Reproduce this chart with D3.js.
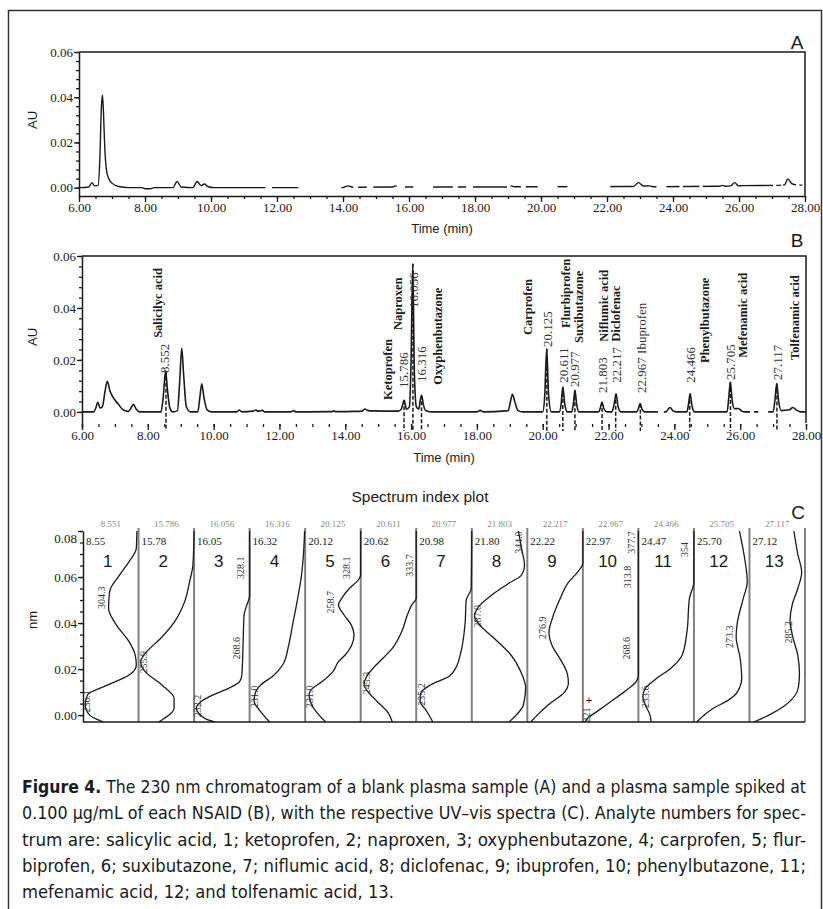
<!DOCTYPE html>
<html>
<head>
<meta charset="utf-8">
<script src="https://cdn.jsdelivr.net/npm/d3@7"></script>
<style>
  body { margin: 0; background: #fff; }
  svg { display: block; }
</style>
</head>
<body>
<svg class="fig" width="823" height="909"></svg>
<script>
// ---------- data ----------
const timeTicks = d3.range(6, 28.01, 2)
const timeMinor = d3.range(6, 28.01, 0.5)
const auTicks = [0, 0.02, 0.04, 0.06]
const auMinor = d3.range(0, 0.0601, 0.004)

// blank plasma trace (A): [time, AU]
const traceA = [
  [6.0,0],[6.3,0.0003],[6.39,0.0022],[6.47,0.0008],[6.58,0.001],[6.63,0.012],[6.68,0.036],[6.71,0.041],
  [6.74,0.034],[6.78,0.018],[6.83,0.008],[6.9,0.004],[7.0,0.002],[7.2,0.0005],[7.5,0],[7.9,0],[8.0,-0.0005],
  [8.15,-0.0005],[8.3,0],[8.85,0],[8.97,0.0027],[9.1,0.0003],[9.45,0],[9.58,0.0027],[9.7,0.0009],[9.8,0.0016],
  [9.9,0.0005],[10.1,0],[14.0,0],[14.15,0.0008],[14.3,0.0002],[15.5,0.0003],[15.6,0.0008],[15.7,0.0003],
  [19.05,0.0003],[19.1,0.0008],[19.2,0.0004],[22.8,0.0005],[22.95,0.0022],[23.1,0.0007],[23.3,0.0008],
  [23.4,0.0004],[25.4,0.0006],[25.5,0.001],[25.6,0.0006],[25.75,0.0008],[25.87,0.0022],[25.98,0.0008],
  [26.1,0.0009],[27.2,0.001],[27.38,0.0012],[27.48,0.0038],[27.6,0.0018],[27.75,0.0012],[27.92,0.0011]
]
// places where the printed trace is broken
const gapsA = [
  [11.65,11.85],[12.65,13.95],[14.31,14.46],[14.72,14.92],[15.63,15.88],[16.13,16.73],[17.33,17.48],
  [17.73,17.94],[18.97,19.08],[19.39,19.54],[19.9,20.5],[20.8,22.1],[23.5,23.8],[24.2,24.3],[24.8,24.9],
  [27.03,27.13],[27.28,27.33],[27.73,27.83]
]

// spiked plasma trace (B): [time, AU]
const traceB = [
  [6.0,0],[6.35,0],[6.42,0.0015],[6.48,0.0037],[6.55,0.0015],[6.62,0.002],[6.7,0.008],[6.77,0.0118],
  [6.85,0.008],[6.95,0.0055],[7.1,0.003],[7.25,0.0008],[7.4,0.0002],[7.49,0.0015],[7.56,0.0029],[7.65,0.001],
  [7.75,0],[8.4,0],[8.47,0.006],[8.54,0.0158],[8.6,0.008],[8.67,0.0015],[8.75,0],[8.9,0.0005],[8.97,0.012],
  [9.03,0.0245],[9.09,0.014],[9.17,0.002],[9.3,0],[9.52,0],[9.58,0.0055],[9.64,0.0108],[9.7,0.006],
  [9.8,0.0008],[9.95,0],[10.7,0],[10.78,0.0007],[10.86,0],[11.2,0.0003],[11.28,0.0007],[11.35,0.0002],
  [11.48,0.0006],[11.55,0],[12.35,0],[12.42,0.0005],[12.5,0],[13.6,0.0001],[13.65,0.0004],[13.7,0.0001],
  [14.3,0.0002],[14.5,0.0003],[14.6,0.0011],[14.7,0.0005],[14.85,0.0004],[15.6,0.0003],[15.7,0.001],
  [15.79,0.0045],[15.86,0.001],[15.95,0.002],[16.0,0.02],[16.05,0.057],[16.1,0.015],[16.16,0.002],
  [16.23,0.001],[16.28,0.0045],[16.32,0.0064],[16.37,0.003],[16.45,0.0004],[16.6,0],[18.0,0],[18.1,0.0006],
  [18.2,0],[18.95,0.0005],[19.02,0.004],[19.08,0.0068],[19.15,0.004],[19.25,0.0005],[19.4,0],[20.0,0],
  [20.06,0.006],[20.12,0.0243],[20.18,0.006],[20.26,0],[20.5,0],[20.56,0.003],[20.61,0.0096],[20.67,0.003],
  [20.75,0],[20.88,0],[20.93,0.003],[20.98,0.0083],[21.03,0.003],[21.1,0],[21.7,0],[21.75,0.0015],
  [21.8,0.0038],[21.86,0.0012],[21.95,0],[22.1,0],[22.17,0.003],[22.23,0.007],[22.29,0.002],[22.38,0],
  [22.85,0],[22.91,0.0013],[22.96,0.0032],[23.02,0.001],[23.1,0],[23.75,0],[23.82,0.0012],[23.87,0.0017],
  [23.95,0.0005],[24.05,0],[24.38,0],[24.43,0.003],[24.48,0.007],[24.54,0.002],[24.62,0],[25.6,0],
  [25.65,0.005],[25.7,0.0115],[25.76,0.004],[25.83,0.0012],[25.95,0.0013],[26.05,0.0003],[26.15,0],
  [27.0,0],[27.06,0.005],[27.11,0.0109],[27.17,0.004],[27.25,0.0005],[27.5,0.0008],[27.6,0.0017],
  [27.7,0.0008],[27.85,0],[28.0,0]
]
const gapsB = [[23.5,23.68],[26.3,26.42],[26.55,26.85]]

const peakTimes = [8.552, 15.786, 16.056, 16.316, 20.125, 20.611, 20.977, 21.803, 22.217, 22.967, 24.466, 25.705, 27.117]
const peakHeights = [0.0158, 0.0045, 0.057, 0.0064, 0.0243, 0.0096, 0.0083, 0.0038, 0.007, 0.0032, 0.007, 0.0115, 0.0109]

// peak labels: [text, time, AU at start of text, bold]
const peakLabels = [
  ['Salicilyc acid', 8.31, 0.0285, true], ['8.552', 8.52, 0.015, false],
  ['Ketoprofen', 15.3, 0.0046, true], ['15.786', 15.76, 0.0092, false],
  ['Naproxen', 15.6, 0.0315, true], ['16.056', 16.06, 0.040, false],
  ['16.316', 16.33, 0.0115, false], ['Oxyphenbutazone', 16.82, 0.0104, true],
  ['Carprofen', 19.56, 0.0296, true], ['20.125', 20.13, 0.025, false],
  ['Flurbiprofen', 20.71, 0.0323, true], ['20.611', 20.62, 0.0112, false],
  ['Suxibutazone', 21.1, 0.0265, true], ['20.977', 20.98, 0.0096, false],
  ['Niflumic acid', 21.87, 0.027, true], ['21.803', 21.81, 0.0073, false],
  ['Diclofenac', 22.23, 0.027, true], ['22.217', 22.23, 0.0112, false],
  ['22.967 Ibuprofen', 22.99, 0.0073, false],
  ['24.466', 24.48, 0.0112, false], ['Phenylbutazone', 24.94, 0.0188, true],
  ['25.705', 25.7, 0.0123, false], ['Mefenamic acid', 26.09, 0.0208, true],
  ['27.117', 27.12, 0.0123, false], ['Tolfenamic acid', 27.67, 0.020, true]
]

// spectrum index plot (C)
const specIds = d3.range(1, 14)
const specTimes = ['8.551','15.786','16.056','16.316','20.125','20.611','20.977','21.803','22.217','22.967','24.466','25.705','27.117']
const specShort = ['8.55','15.78','16.05','16.32','20.12','20.62','20.98','21.80','22.22','22.97','24.47','25.70','27.12']
const specTicks = [0, 0.02, 0.04, 0.06, 0.08]
const specMinor = d3.range(0, 0.0801, 0.005)
// each spectrum: [axis value, fraction of panel width]
const spectra = [
  [[0.08,0.97],[0.0725,0.96],[0.0667,0.83],[0.0609,0.66],[0.0537,0.48],[0.0464,0.46],[0.0392,0.6],[0.0319,0.83],[0.0261,0.94],[0.0218,0.96],[0.0174,0.83],[0.0131,0.45],[0.0087,0.08],[0.0044,0.04],[0,0.12],[-0.003,0.37]],
  [[0.08,1.0],[0.0653,0.98],[0.058,0.92],[0.0493,0.83],[0.0406,0.65],[0.0334,0.4],[0.0276,0.15],[0.0232,0.04],[0.0189,0.12],[0.0131,0.42],[0.0073,0.64],[0.0029,0.64],[-0.0015,0.46],[-0.003,0.36]],
  [[0.08,1.0],[0.0522,1.0],[0.0464,0.93],[0.0435,0.9],[0.029,0.88],[0.0174,0.86],[0.0145,0.82],[0.0116,0.62],[0.0087,0.33],[0.0058,0.12],[0.0029,0.04],[0.0015,0.06],[-0.0015,0.2],[-0.003,0.37]],
  [[0.08,0.99],[0.07,0.97],[0.06,0.93],[0.05,0.86],[0.04,0.78],[0.03,0.7],[0.022,0.6],[0.017,0.42],[0.0131,0.2],[0.0095,0.1],[0.006,0.08],[0.003,0.15],[0,0.25],[-0.003,0.36]],
  [[0.08,1.0],[0.0609,1.0],[0.058,0.93],[0.0551,0.8],[0.0508,0.66],[0.048,0.6],[0.0435,0.7],[0.0392,0.83],[0.0348,0.88],[0.0305,0.84],[0.0261,0.72],[0.0232,0.6],[0.0189,0.5],[0.0145,0.3],[0.0116,0.13],[0.0087,0.07],[0.0044,0.12],[0,0.25],[-0.003,0.37]],
  [[0.08,1.0],[0.0508,1.0],[0.0479,0.92],[0.0435,0.84],[0.0363,0.74],[0.029,0.57],[0.0247,0.4],[0.0203,0.22],[0.016,0.09],[0.0131,0.06],[0.0102,0.13],[0.0058,0.3],[0.0015,0.48],[-0.003,0.57]],
  [[0.08,1.0],[0.055,0.99],[0.05,0.9],[0.04,0.88],[0.027,0.8],[0.02,0.7],[0.017,0.6],[0.013,0.25],[0.0095,0.08],[0.006,0.07],[0.002,0.18],[-0.003,0.3]],
  [[0.08,0.84],[0.072,0.9],[0.065,0.95],[0.061,0.9],[0.057,0.65],[0.052,0.35],[0.047,0.12],[0.043,0.05],[0.039,0.15],[0.033,0.42],[0.026,0.71],[0.019,0.88],[0.012,0.97],[0.0044,0.93],[0,0.8],[-0.003,0.67]],
  [[0.08,1.0],[0.066,1.0],[0.062,0.9],[0.058,0.75],[0.05,0.58],[0.042,0.45],[0.036,0.39],[0.03,0.45],[0.024,0.6],[0.018,0.72],[0.014,0.74],[0.01,0.67],[0.0045,0.38],[0,0.18],[-0.003,0.06]],
  [[0.08,1.0],[0.0174,1.0],[0.0145,0.96],[0.0102,0.75],[0.0058,0.5],[0.0015,0.25],[-0.0015,0.08],[-0.003,0.04]],
  [[0.08,1.0],[0.058,1.0],[0.0508,0.92],[0.0363,0.875],[0.0261,0.79],[0.0203,0.58],[0.016,0.33],[0.0116,0.125],[0.008,0.08],[0.0044,0.125],[0,0.21],[-0.003,0.23]],
  [[0.08,0.82],[0.07,0.9],[0.058,0.96],[0.05,0.88],[0.04,0.78],[0.034,0.76],[0.025,0.83],[0.016,0.86],[0.01,0.78],[0.0065,0.62],[0.003,0.35],[-0.003,0.05]],
  [[0.08,0.8],[0.07,0.87],[0.062,0.94],[0.055,0.87],[0.048,0.77],[0.041,0.73],[0.034,0.78],[0.026,0.87],[0.018,0.9],[0.012,0.88],[0.0065,0.75],[0.0035,0.6],[0,0.35],[-0.003,0.08]]
]
// wavelength labels in the spectra: [panel, fraction, axis value, text]
const specPeaks = [
  [1,0.34,0.051,'304.3'],[1,0.06,0.006,'236.1'],[2,0.09,0.023,'255.9'],
  [3,0.83,0.064,'328.1'],[3,0.76,0.029,'268.6'],[3,0.07,0.004,'232.2'],[4,0.08,0.008,'231.0'],
  [5,0.75,0.064,'328.1'],[5,0.45,0.049,'258.7'],[5,0.08,0.008,'231.0'],
  [6,0.88,0.065,'333.7'],[6,0.1,0.014,'245.3'],[7,0.1,0.009,'235.2'],
  [8,0.84,0.075,'344.0'],[8,0.1,0.043,'287.0'],[9,0.27,0.038,'276.9'],
  [10,0.87,0.075,'377.7'],[10,0.81,0.06,'313.8'],[10,0.78,0.029,'268.6'],[10,0.06,0.0,'221'],
  [11,0.83,0.072,'354'],[11,0.12,0.008,'233.6'],[12,0.64,0.034,'273.3'],[13,0.71,0.036,'285.2']
]

const captionLines = [
  ['Figure 4.', ' The 230 nm chromatogram of a blank plasma sample (A) and a plasma sample spiked at'],
  ['', '0.100 µg/mL of each NSAID (B), with the respective UV–vis spectra (C). Analyte numbers for spec-'],
  ['', 'trum are: salicylic acid, 1; ketoprofen, 2; naproxen, 3; oxyphenbutazone, 4; carprofen, 5; flur-'],
  ['', 'biprofen, 6; suxibutazone, 7; niflumic acid, 8; diclofenac, 9; ibuprofen, 10; phenylbutazone, 11;'],
  ['', 'mefenamic acid, 12; and tolfenamic acid, 13.']
]

// ---------- drawing ----------
const svg = d3.select('.fig')
const serif = '"Liberation Serif","Times New Roman",serif'
const sans = '"Liberation Sans",Arial,sans-serif'
const ink = '#1a1a1a'

// outer frame
svg.append('path')
  .attr('d', 'M8.5,909 V10.5 H821.5 V909')
  .attr('fill', 'none')
  .attr('stroke', '#333')
  .attr('stroke-width', 1.5)

function styleAxis(sel) {
  sel.attr('font-family', serif).attr('font-size', 13)
  sel.selectAll('line').attr('stroke', ink).attr('stroke-width', 1.3)
  sel.selectAll('path').attr('stroke', ink).attr('stroke-width', 1.5)
  sel.selectAll('text').attr('fill', ink)
}

function chrom(o) {
  const x = d3.scaleLinear().domain([6, 28]).range(o.xr)
  const y = d3.scaleLinear().domain(o.yd).range(o.yr)
  const g = svg.append('g')

  // clip out the broken parts of the printed trace
  const segs = []
  let s = 6
  o.gaps.forEach(([a, b]) => { segs.push([s, a]); s = b })
  segs.push([s, 28.2])
  svg.append('clipPath').attr('id', 'clip' + o.name)
    .selectAll('rect').data(segs).join('rect')
    .attr('x', d => x(d[0])).attr('width', d => x(d[1]) - x(d[0]))
    .attr('y', o.yr[1] - 5).attr('height', o.yr[0] - o.yr[1] + 10)

  g.append('path')
    .datum(o.trace)
    .attr('clip-path', `url(#clip${o.name})`)
    .attr('d', d3.line().x(d => x(d[0])).y(d => y(d[1])).curve(d3.curveMonotoneX))
    .attr('fill', 'none')
    .attr('stroke', ink)
    .attr('stroke-width', o.lw)

  // y axis
  g.append('g')
    .attr('transform', `translate(${o.xr[0]},0)`)
    .call(d3.axisLeft(y).tickValues(auTicks).tickFormat(d3.format('.2f')).tickSize(5).tickSizeOuter(0).tickPadding(1))
    .call(styleAxis)
  g.append('g')
    .attr('transform', `translate(${o.xr[0]},0)`)
    .call(d3.axisLeft(y).tickValues(auMinor).tickFormat('').tickSize(3))
    .call(styleAxis)
    .select('.domain').remove()

  // x axis
  const xa = g.append('g')
    .attr('transform', `translate(0,${o.xAxisY})`)
    .call(d3.axisBottom(x).tickValues(timeTicks).tickFormat(d3.format('.2f')).tickSize(6).tickSizeOuter(0).tickPadding(1))
    .call(styleAxis)
  if (!o.xLine) xa.select('.domain').remove()
  g.append('g')
    .attr('transform', `translate(0,${o.xAxisY})`)
    .call(d3.axisBottom(x).tickValues(timeMinor).tickFormat('').tickSize(3))
    .call(styleAxis)
    .select('.domain').remove()

  // top and right edges of the plot
  g.append('path')
    .attr('d', `M${o.xr[0]},${o.yr[1]} H${o.xr[1]} V${o.rightEnd}`)
    .attr('fill', 'none').attr('stroke', ink).attr('stroke-width', 1.5)

  g.append('text')
    .attr('x', (o.xr[0] + o.xr[1]) / 2).attr('y', o.titleY)
    .attr('text-anchor', 'middle').attr('font-family', sans).attr('font-size', 13).attr('fill', ink)
    .text('Time (min)')
  g.append('text')
    .attr('transform', `translate(37,${o.auY}) rotate(-90)`)
    .attr('text-anchor', 'middle').attr('font-family', sans).attr('font-size', 13).attr('fill', ink)
    .text('AU')
  g.append('text')
    .attr('x', 797).attr('y', o.letterY)
    .attr('text-anchor', 'middle').attr('font-family', sans).attr('font-size', 19).attr('fill', ink)
    .text(o.name)
  return { x, y, g }
}

// panel A
chrom({ name: 'A', trace: traceA, gaps: gapsA, xr: [79, 805], yd: [-0.0037, 0.06], yr: [196, 52],
  xAxisY: 196, xLine: true, rightEnd: 196, titleY: 233, auY: 120, letterY: 49, lw: 1.4 })

// panel B
const B = chrom({ name: 'B', trace: traceB, gaps: gapsB, xr: [82, 806], yd: [-0.0062, 0.06], yr: [428, 256],
  xAxisY: 424, xLine: false, rightEnd: 423, titleY: 462, auY: 337, letterY: 247, lw: 1.6 })

// retention markers
B.g.append('g').selectAll('line').data(peakTimes).join('line')
  .attr('x1', d => B.x(d)).attr('x2', d => B.x(d))
  .attr('y1', (d, i) => B.y(peakHeights[i])).attr('y2', 431)
  .attr('stroke', ink).attr('stroke-width', 1.5).attr('stroke-dasharray', '4,2')

B.g.append('g').selectAll('text').data(peakLabels).join('text')
  .attr('transform', d => `translate(${B.x(d[1])},${B.y(d[2])}) rotate(-90)`)
  .attr('dominant-baseline', 'central')
  .attr('font-family', serif)
  .attr('font-size', d => d[3] ? 12.5 : 13)
  .attr('font-weight', d => d[3] ? 'bold' : 'normal')
  .attr('fill', d => d[3] ? ink : '#333')
  .text(d => d[0])

// panel C: spectrum index plot
svg.append('text')
  .attr('x', 420).attr('y', 502)
  .attr('text-anchor', 'middle').attr('font-family', sans).attr('font-size', 15.5).attr('fill', ink)
  .text('Spectrum index plot')
svg.append('text')
  .attr('x', 798).attr('y', 519)
  .attr('text-anchor', 'middle').attr('font-family', sans).attr('font-size', 19).attr('fill', ink)
  .text('C')

const band = d3.scaleBand().domain(specIds).range([83, 805])
const yC = d3.scaleLinear().domain([-0.003, 0.08]).range([722, 531])
const fx = d3.scaleLinear().domain([0, 1]).range([0, band.bandwidth()])
const bw = band.bandwidth()

const gC = svg.append('g')
const panels = gC.selectAll('g.panel').data(specIds).join('g')
  .attr('class', 'panel')
  .attr('transform', d => `translate(${band(d)},0)`)

panels.append('line')
  .attr('x1', bw).attr('x2', bw).attr('y1', 528).attr('y2', 722)
  .attr('stroke', '#808080').attr('stroke-width', 2)

const lineC = d3.line().x(d => fx(d[1])).y(d => yC(d[0])).curve(d3.curveMonotoneY)
panels.append('path')
  .attr('d', (d, i) => lineC(spectra[i]))
  .attr('fill', 'none').attr('stroke', ink).attr('stroke-width', 1.3)

panels.append('text')
  .attr('x', bw / 2).attr('y', 527)
  .attr('text-anchor', 'middle').attr('font-family', serif).attr('font-size', 9).attr('fill', '#888')
  .text((d, i) => specTimes[i])
panels.append('text')
  .attr('x', 3).attr('y', 545)
  .attr('font-family', serif).attr('font-size', 11).attr('fill', ink)
  .text((d, i) => specShort[i])
panels.append('text')
  .attr('x', bw / 2 - 3).attr('y', 567)
  .attr('text-anchor', 'middle').attr('font-family', sans).attr('font-size', 17).attr('fill', ink)
  .text(d => d)

gC.append('g').selectAll('text').data(specPeaks).join('text')
  .attr('transform', d => `translate(${band(d[0]) + fx(d[1])},${yC(d[2])}) rotate(-90)`)
  .attr('text-anchor', 'middle').attr('dominant-baseline', 'central')
  .attr('font-family', serif).attr('font-size', 10).attr('fill', '#333')
  .text(d => d[3])
gC.append('text')
  .attr('x', band(10) + fx(0.11)).attr('y', yC(0.0065))
  .attr('text-anchor', 'middle').attr('dominant-baseline', 'central')
  .attr('font-family', sans).attr('font-size', 11).attr('fill', ink)
  .text('+')

// C axes
gC.append('g')
  .attr('transform', 'translate(83,0)')
  .call(d3.axisLeft(yC).tickValues(specTicks).tickFormat(d3.format('.2f')).tickSize(5).tickSizeOuter(0).tickPadding(1))
  .call(styleAxis)
  .selectAll('text').attr('dy', d => d === 0.08 ? '0.9em' : '0.32em')
gC.append('g')
  .attr('transform', 'translate(83,0)')
  .call(d3.axisLeft(yC).tickValues(specMinor).tickFormat('').tickSize(3))
  .call(styleAxis)
  .select('.domain').remove()
gC.append('line')
  .attr('x1', 83).attr('x2', 805).attr('y1', 722).attr('y2', 722)
  .attr('stroke', ink).attr('stroke-width', 1.5)
gC.append('text')
  .attr('transform', 'translate(37,620) rotate(-90)')
  .attr('text-anchor', 'middle').attr('font-family', sans).attr('font-size', 13).attr('fill', ink)
  .text('nm')

// caption, justified to the column width
const capFont = '"Liberation Sans Narrow","DejaVu Sans Condensed","Roboto Condensed",sans-serif'
const cap = svg.append('g').attr('font-family', capFont).attr('font-size', 17).attr('fill', ink)
captionLines.forEach((ln, i) => {
  const t = cap.append('text')
    .attr('x', 22).attr('y', 793 + i * 26.3)
    .attr('textLength', i < 4 ? 784 : 372)
    .attr('lengthAdjust', 'spacingAndGlyphs')
  if (ln[0]) t.append('tspan').attr('font-weight', 'bold').text(ln[0])
  t.append('tspan').text(ln[1])
})
</script>
</body>
</html>
